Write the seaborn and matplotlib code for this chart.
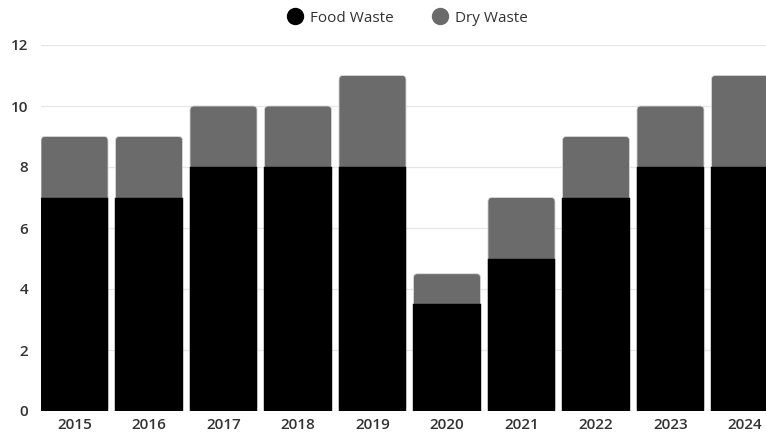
import matplotlib
matplotlib.use("Agg")
import matplotlib.pyplot as plt
from matplotlib.patches import FancyBboxPatch
from matplotlib.lines import Line2D
import seaborn as sns
import pandas as pd

years = ["2015", "2016", "2017", "2018", "2019", "2020", "2021", "2022", "2023", "2024"]
food_waste = [7, 7, 8, 8, 8, 3.5, 5, 7, 8, 8]
dry_waste = [2, 2, 2, 2, 3, 1, 2, 2, 2, 3]
y_ticks = [0, 2, 4, 6, 8, 10, 12]

FOOD_COLOR = "#000000"
DRY_COLOR = "#6b6b6b"
TEXT_COLOR = "#333333"

df = pd.DataFrame({"year": years, "food": food_waste, "dry": dry_waste})
df["total"] = df["food"] + df["dry"]

sns.set_theme(style="white")
plt.rcParams["font.family"] = ["Open Sans", "DejaVu Sans"]

fig = plt.figure(figsize=(7.66, 4.32), dpi=100)
ax = fig.add_axes([41 / 766, 21 / 432, 737.5 / 766, 366 / 432])

# stacked bars: full total in grey behind, food waste in black in front
sns.barplot(data=df, x="year", y="total", color=DRY_COLOR, width=0.9,
            saturation=1, edgecolor="#d9d9d9", linewidth=0.6, ax=ax, zorder=2)
ax.set_xlim(-0.45, 9.45)
ax.set_ylim(0, 12)

# round the top corners of the grey stacks
px_x = 1 / 74.5
px_y = 12 / 366
aspect = px_y / px_x
for patch in list(ax.patches):
    x, y = patch.get_x(), patch.get_y()
    w, h = patch.get_width(), patch.get_height()
    patch.remove()
    rounded = FancyBboxPatch((x, y), w, h,
                             boxstyle=f"round,pad=0,rounding_size={4 * px_x}",
                             mutation_aspect=aspect,
                             facecolor=DRY_COLOR, edgecolor="#d9d9d9",
                             linewidth=0.6, zorder=2)
    ax.add_patch(rounded)

sns.barplot(data=df, x="year", y="food", color=FOOD_COLOR, width=0.9,
            saturation=1, edgecolor=FOOD_COLOR, linewidth=0.3, ax=ax, zorder=3)

ax.set_xlim(-0.45, 9.45)
ax.set_ylim(0, 12)
ax.set_yticks(y_ticks)
ax.set_yticklabels([str(t) for t in y_ticks])
ax.grid(axis="y", color="#e6e6e6", linewidth=0.9, zorder=0)
ax.set_axisbelow(True)
for s in ax.spines.values():
    s.set_visible(False)
ax.set_xlabel("")
ax.set_ylabel("")
ax.tick_params(axis="both", length=0, labelsize=11, labelcolor=TEXT_COLOR)
ax.tick_params(axis="y", pad=9)
ax.tick_params(axis="x", pad=5)
for lab in ax.get_xticklabels() + ax.get_yticklabels():
    lab.set_fontweight("semibold")

handles = [
    Line2D([], [], marker="o", linestyle="", markersize=11.5,
           markerfacecolor=FOOD_COLOR, markeredgecolor=FOOD_COLOR, label="Food Waste"),
    Line2D([], [], marker="o", linestyle="", markersize=11.5,
           markerfacecolor=DRY_COLOR, markeredgecolor=DRY_COLOR, label="Dry Waste"),
]
leg = fig.legend(handles=handles, loc="center", bbox_to_anchor=(407 / 766, 1 - 18 / 432),
                 ncol=2, frameon=False, fontsize=11, handletextpad=0.4,
                 columnspacing=2.4, handlelength=1.2)
for t in leg.get_texts():
    t.set_color(TEXT_COLOR)

fig.savefig("out.png", dpi=100)
